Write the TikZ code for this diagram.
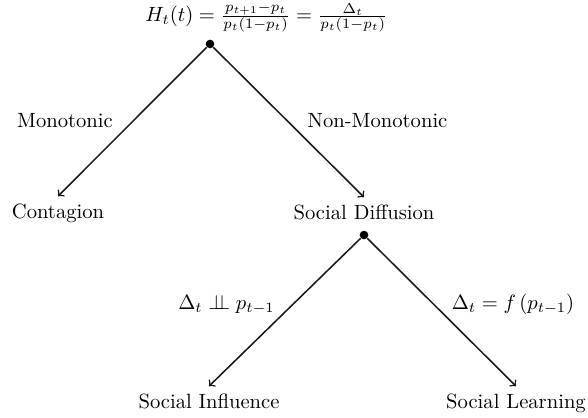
\documentclass[tikz,border=0pt]{standalone}
\usepackage{amsmath,amssymb,amsfonts}
\usepackage{tikz}
\usetikzlibrary{arrows, positioning}
\newcommand{\indepsym}{\perp\!\!\!\perp}

\begin{document}
\begin{tikzpicture}[x=0.485pt, y=-0.485pt,
arr/.style={->, >=to, line width=0.75pt, black!90}, dot/.style={circle, fill=black, inner sep=0pt,
minimum size=4.2pt}, leaf/.style={anchor=base, align=center}, lbl/.style={anchor=base, inner
sep=0pt} ]
\useasboundingbox (0,0) rectangle (588,417);
\node[anchor=base west, inner sep=0pt] (hazard) at (145,21.5)
{$H_t(t) = \frac{p_{t+1}-p_t}{p_t(1-p_t)} = \frac{\Delta_t}{p_t(1-p_t)}$};
\node[dot] (root) at (210,44) {};
\node[leaf] (contagion) at (58,218) {Contagion};
\node[leaf] (diffusion) at (364,219) {Social Diffusion};
\draw[arr] (root) -- (contagion.north);
\draw[arr] (root) -- (diffusion.north);
\node[lbl] (mono) at (65,127) {Monotonic};
\node[lbl] (nonmono) at (377.5,127) {Non-Monotonic};
\node[dot] (split) at (364,235) {};
\node[leaf] (influence) at (209,408) {Social Influence};
\node[leaf] (learning) at (516,408) {Social Learning};
\draw[arr] (split) -- (influence.north);
\draw[arr] (split) -- (learning.north);
\node[lbl] (indep) at (226.5,309) {$\Delta_t \indepsym p_{t-1}$};
\node[lbl] (dep) at (513,309) {$\Delta_t = f\left(p_{t-1}\right)$};
\end{tikzpicture}
\end{document}
